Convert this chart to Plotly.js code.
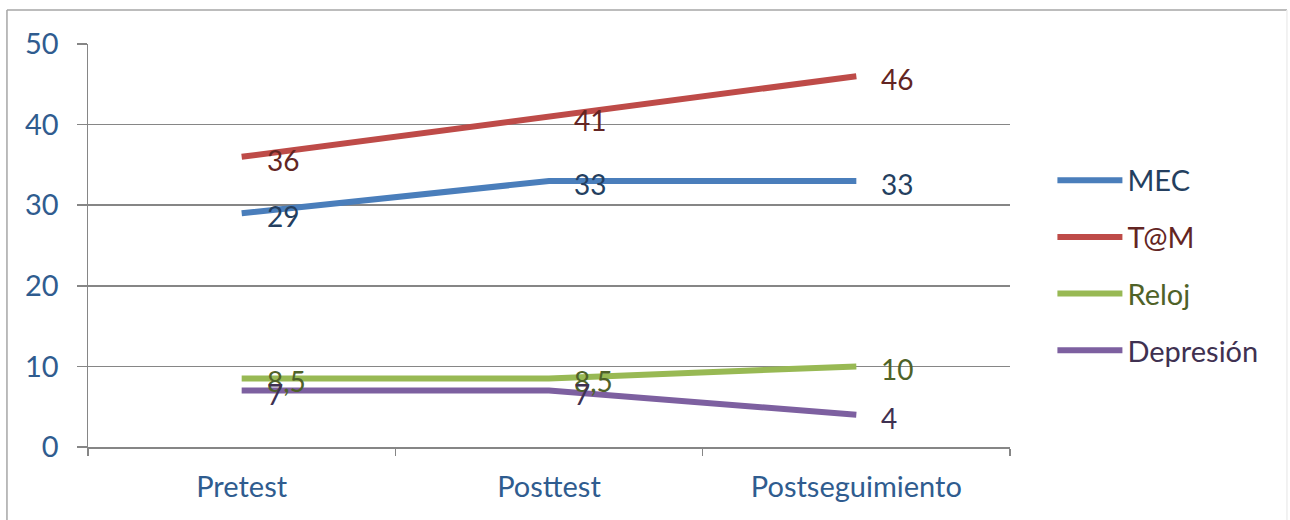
<!DOCTYPE html>
<html>
<head>
<meta charset="utf-8">
<script src="https://cdn.plot.ly/plotly-3.0.1.min.js"></script>
<style>html,body{margin:0;padding:0;background:#fff;}#chart{width:1290px;height:520px;}</style>
</head>
<body>
<div id="chart"></div>
<script>
const categories = ["Pretest", "Posttest", "Postseguimiento"];
const seriesNames = ["MEC", "T@M", "Reloj", "Depresión"];
const mec = [29, 33, 33];
const tam = [36, 41, 46];
const reloj = [8.5, 8.5, 10];
const depresion = [7, 7, 4];
const yTicks = [0, 10, 20, 30, 40, 50];

const seriesValues = [mec, tam, reloj, depresion];
const lineColors = ["#4a7ebb", "#be4b48", "#98b954", "#7d60a0"];
const textColors = ["#243f60", "#632523", "#4f6228", "#3f3151"];
const FONT = "Lato, 'Open Sans', sans-serif";

const traces = seriesValues.map((vals, i) => ({
  type: "scatter",
  mode: "lines",
  x: categories,
  y: vals,
  name: seriesNames[i],
  legendgroup: "g" + i,
  line: {color: lineColors[i], width: 6},
  hoverinfo: "skip"
}));

const annotations = [];
seriesValues.forEach((vals, i) => {
  vals.forEach((v, j) => {
    annotations.push({
      x: categories[j], y: v, xref: "x", yref: "y",
      text: String(v).replace(".", ","),
      showarrow: false, xanchor: "left", yanchor: "middle",
      xshift: 23, yshift: -3,
      font: {family: FONT, size: 28, color: textColors[i]}
    });
  });
});

const shapes = [
  {type: "line", xref: "paper", yref: "paper", x0: -0.0879, x1: 1.3004, y0: 1.0844, y1: 1.0844, line: {color: "#a6a6a6", width: 1.5}},
  {type: "line", xref: "paper", yref: "paper", x0: -0.0879, x1: -0.0879, y0: 1.0844, y1: -0.19, line: {color: "#a6a6a6", width: 1.5}},
  {type: "line", xref: "paper", yref: "paper", x0: 1.3004, x1: 1.3004, y0: 1.0844, y1: -0.19, line: {color: "#eeeeee", width: 1.5}}
];

const layout = {
  width: 1290, height: 520,
  margin: {l: 88, r: 280, t: 44, b: 73},
  paper_bgcolor: "#ffffff", plot_bgcolor: "#ffffff",
  font: {family: FONT, size: 29, color: "#2f5c8f"},
  showlegend: true,
  legend: {
    x: 1.046, y: 0.725, xanchor: "left", yanchor: "top",
    traceorder: "grouped", tracegroupgap: 16,
    itemwidth: 65,
    font: {family: FONT, size: 29},
    bgcolor: "rgba(0,0,0,0)"
  },
  xaxis: {
    type: "category",
    range: [-0.5, 2.5],
    tickson: "boundaries",
    ticks: "outside", ticklen: 7, tickcolor: "#868686", tickwidth: 1.5,
    showline: true, linecolor: "#868686", linewidth: 1.5,
    showgrid: false, zeroline: false,
    tickfont: {family: FONT, size: 29, color: "#2f5c8f"},
    ticklabelstandoff: 14,
    fixedrange: true
  },
  yaxis: {
    range: [0, 50],
    tickvals: yTicks,
    ticks: "outside", ticklen: 10, tickcolor: "#868686", tickwidth: 1.5,
    showline: true, linecolor: "#868686", linewidth: 1.5,
    showgrid: true, gridcolor: "#868686", gridwidth: 1.5,
    zeroline: false,
    tickfont: {family: FONT, size: 29, color: "#2f5c8f"},
    ticklabelstandoff: 12,
    fixedrange: true
  },
  annotations: annotations,
  shapes: shapes
};

Plotly.newPlot("chart", traces, layout, {displayModeBar: false, staticPlot: true}).then(() => {
  document.querySelectorAll(".legend .traces").forEach((g, i) => {
    const t = g.querySelector("text.legendtext");
    if (t) t.style.fill = textColors[i];
  });
});
</script>
</body>
</html>
